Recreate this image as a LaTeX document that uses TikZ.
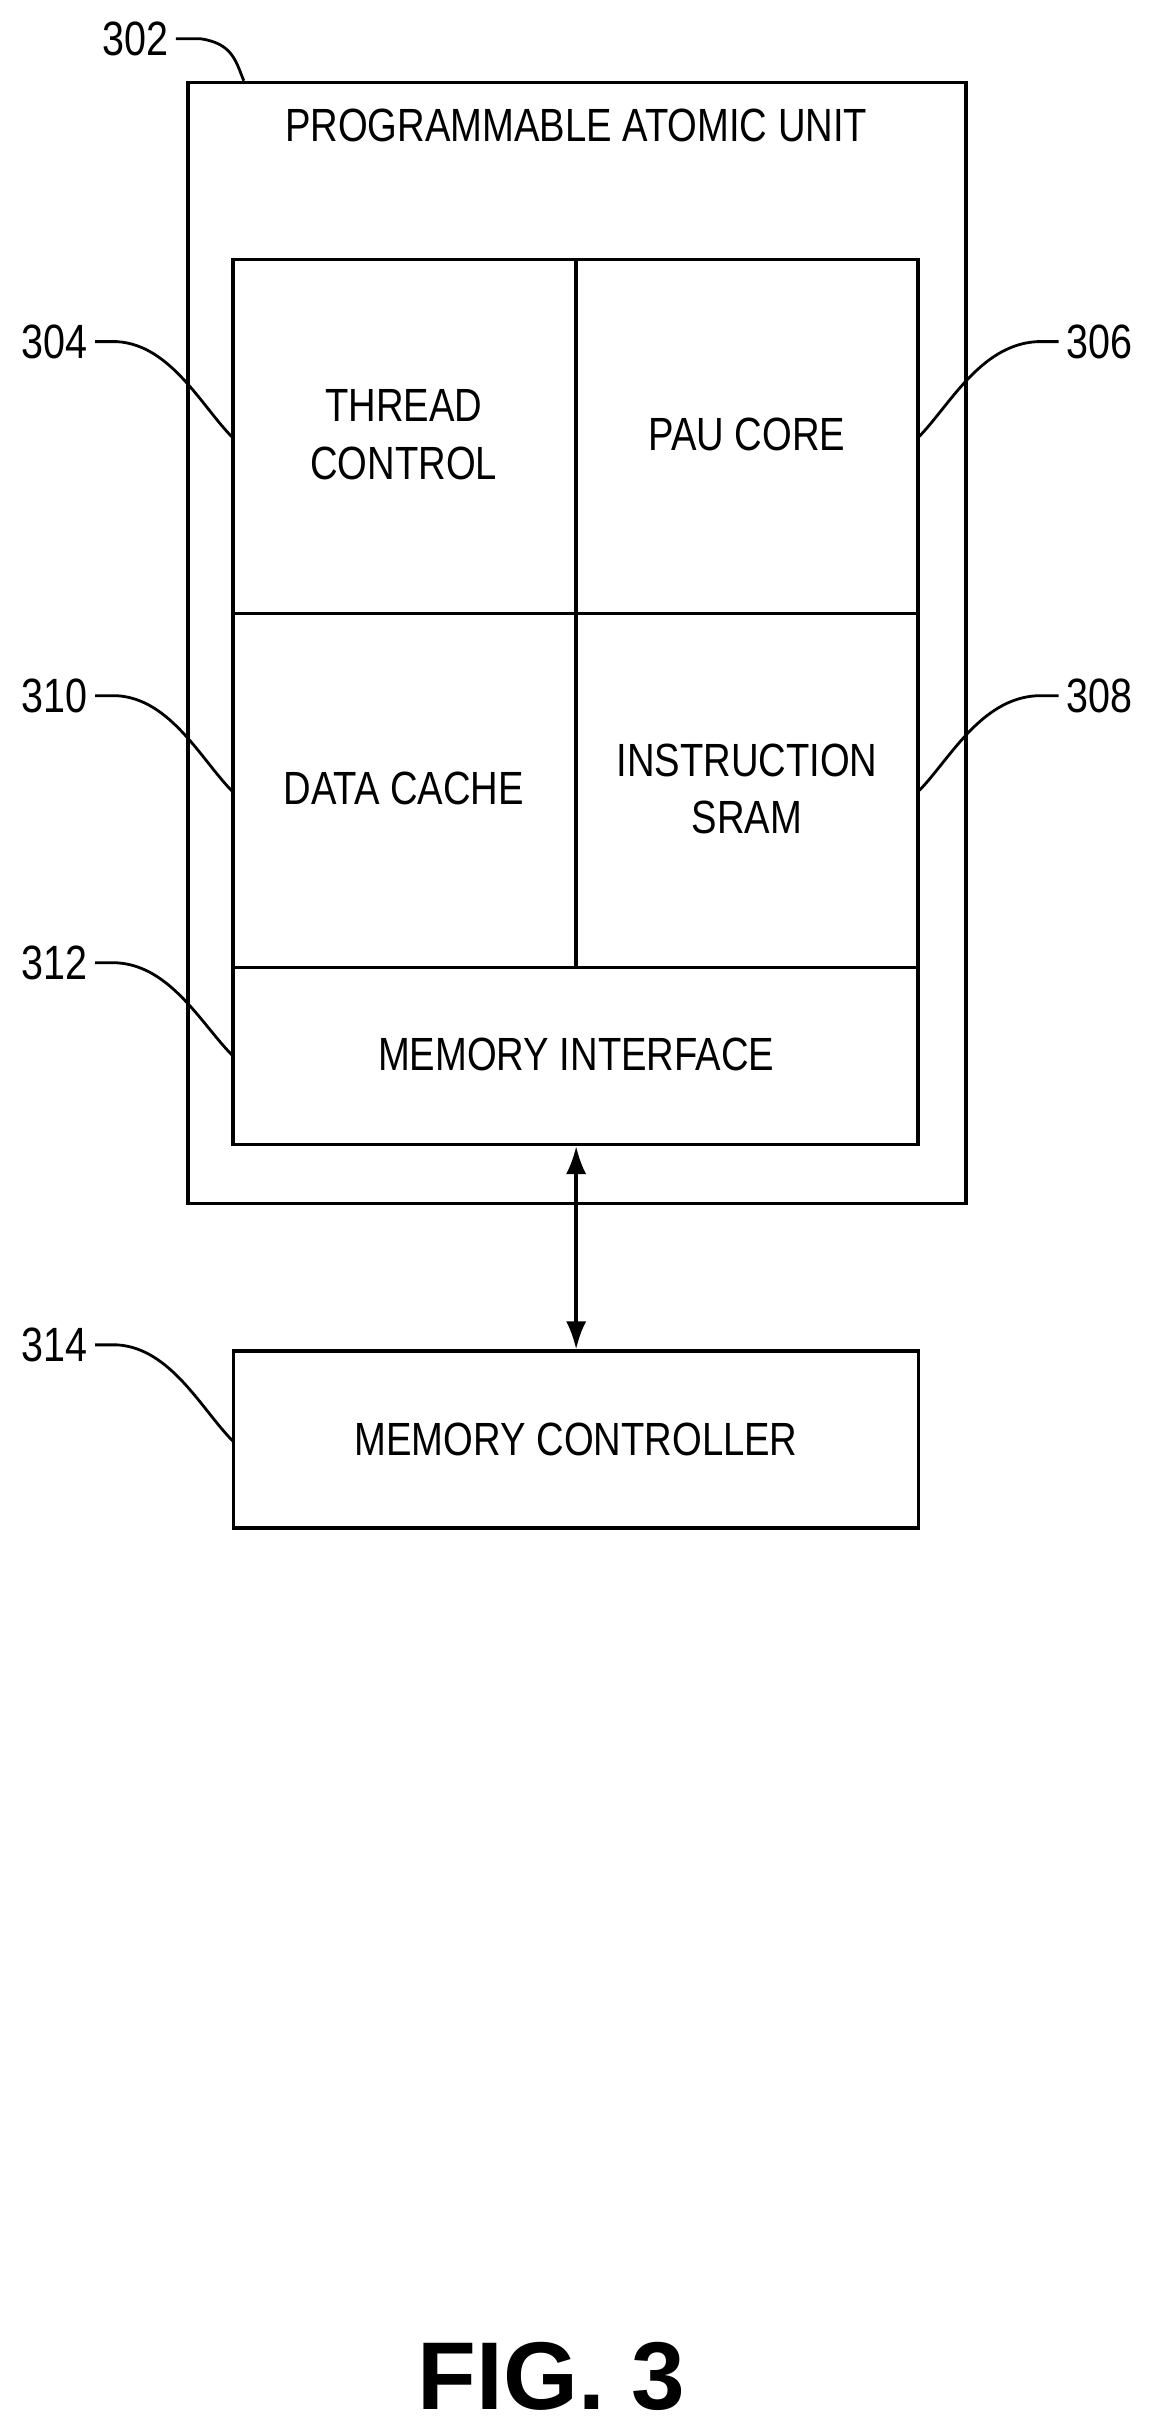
\documentclass[tikz,border=0pt]{standalone}
\usepackage{fontspec}
\usetikzlibrary{arrows.meta}
\setmainfont{Liberation Sans}[FakeStretch=0.82]
\begin{document}
\begin{tikzpicture}[x=1pt,y=-1pt,line width=2.2pt,
  lbl/.style={font=\fontsize{30}{37}\selectfont,align=center,inner sep=0},
  num/.style={font=\fontsize{31}{34}\selectfont,inner sep=0},
  lead/.style={line width=1.8pt}]
\useasboundingbox (0,0) rectangle (742,1568);
\draw (121,53) rectangle (622,775);
\node[lbl] (pau) at (371,81) {PROGRAMMABLE ATOMIC UNIT};
\draw (150,167) rectangle (591,737);
\draw (371,167) -- (371,623);
\draw (150,395) -- (591,395);
\draw (150,623) -- (591,623);
\node[lbl] (tc) at (260,280) {THREAD\\CONTROL};
\node[lbl] (core) at (481,280) {PAU CORE};
\node[lbl] (dc) at (260,508) {DATA CACHE};
\node[lbl] (is) at (481,508) {INSTRUCTION\\SRAM};
\node[lbl] (mi) at (371,679) {MEMORY INTERFACE};
\node[draw,minimum width=441pt,minimum height=114pt,inner sep=0] (mc) at (371,927) {};
\node[lbl] at (mc) {MEMORY CONTROLLER};
\coordinate (mitop) at (371,738);
\draw[{Latex[length=18pt,width=13pt]}-{Latex[length=18pt,width=13pt]}] (mitop) -- (mc.north);
\node[num] (n302) at (87,25) {302};
\node[num] (n304) at (35,220) {304};
\node[num] (n306) at (708,220) {306};
\node[num] (n310) at (35,448) {310};
\node[num] (n308) at (708,448) {308};
\node[num] (n312) at (35,620) {312};
\node[num] (n314) at (35,866) {314};
\draw[lead] (n302.east) ++(4,0) -- ++(16,0) .. controls (150,28) and (152,40) .. (157,52);
\draw[lead] (n304.east) ++(4,0) -- ++(14,0) .. controls (110,222) and (130,262) .. (150,282);
\draw[lead] (n310.east) ++(4,0) -- ++(14,0) .. controls (110,450) and (130,490) .. (150,510);
\draw[lead] (n312.east) ++(4,0) -- ++(14,0) .. controls (110,622) and (130,660) .. (150,680);
\draw[lead] (n314.east) ++(4,0) -- ++(14,0) .. controls (110,868) and (130,908) .. (150,928);
\draw[lead] (n306.west) ++(-4,0) -- ++(-14,0) .. controls (631,222) and (611,262) .. (591,282);
\draw[lead] (n308.west) ++(-4,0) -- ++(-14,0) .. controls (631,450) and (611,490) .. (591,510);
\node[font=\fontspec{Liberation Sans}\bfseries\fontsize{62}{70}\selectfont,inner sep=0] (fig) at (355,1530) {FIG. 3};
\end{tikzpicture}
\end{document}
